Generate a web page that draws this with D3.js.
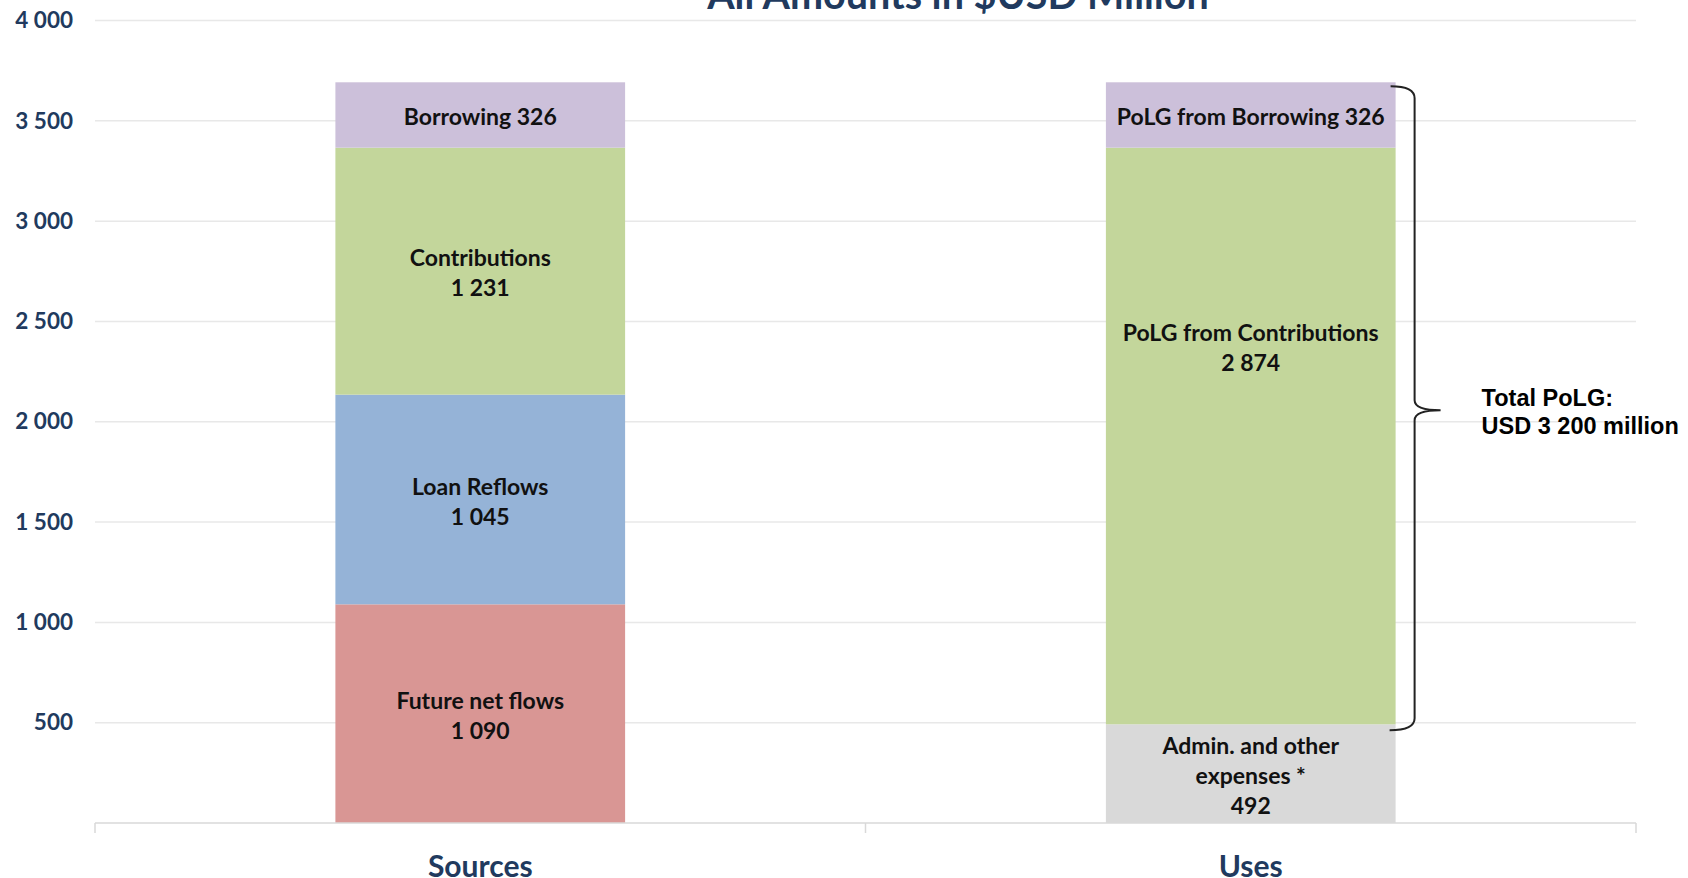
<!DOCTYPE html>
<html>
<head>
<meta charset="utf-8">
<script src="https://cdn.jsdelivr.net/npm/d3@7"></script>
<style>
  body { margin: 0; background: #fff; }
  svg { display: block; }
</style>
</head>
<body>
<div id="container"></div>
<script>
/* CONSTANTS AND GLOBALS */
const width = 1688,
  height = 878,
  margin = { top: 20.5, bottom: 55, left: 95, right: 52 };

const title = "All Amounts in $USD Million";
const categories = ["Sources", "Uses"];

// segments stacked bottom-up
const sourceNames = ["Future net flows", "Loan Reflows", "Contributions", "Borrowing"];
const sourceValues = [1090, 1045, 1231, 326];
const useNames = ["Admin. and other expenses *", "PoLG from Contributions", "PoLG from Borrowing"];
const useValues = [492, 2874, 326];

const yTicks = [500, 1000, 1500, 2000, 2500, 3000, 3500, 4000];
const braceNote = ["Total PoLG:", "USD 3 200 million"];

const colors = {
  "Future net flows": "#D99694",
  "Loan Reflows": "#95B3D7",
  "Contributions": "#C3D69B",
  "Borrowing": "#CCC0DA",
  "Admin. and other expenses *": "#D9D9D9",
  "PoLG from Contributions": "#C3D69B",
  "PoLG from Borrowing": "#CCC0DA"
};

// how each label is broken into lines
const labelLines = {
  "Future net flows": d => ["Future net flows", fmt(d.value)],
  "Loan Reflows": d => ["Loan Reflows", fmt(d.value)],
  "Contributions": d => ["Contributions", fmt(d.value)],
  "Borrowing": d => ["Borrowing " + fmt(d.value)],
  "Admin. and other expenses *": d => ["Admin. and other", "expenses *", fmt(d.value)],
  "PoLG from Contributions": d => ["PoLG from Contributions", fmt(d.value)],
  "PoLG from Borrowing": d => ["PoLG from Borrowing " + fmt(d.value)]
};
const labelShift = { "PoLG from Contributions": -90 };

const locale = d3.formatLocale({ decimal: ".", thousands: " ", grouping: [3], currency: ["", ""] });
const fmt = locale.format(",");

const navy = "#213A5E";
const font = "Lato, 'Open Sans', sans-serif";

/* build stacked rows */
function stack(cat, names, values) {
  let y0 = 0;
  return names.map((n, i) => {
    const row = { cat, name: n, value: values[i], y0, y1: y0 + values[i] };
    y0 += values[i];
    return row;
  });
}
const data = stack("Sources", sourceNames, sourceValues).concat(stack("Uses", useNames, useValues));

/* SCALES */
const xScale = d3.scaleBand()
  .domain(categories)
  .range([margin.left, width - margin.right])
  .paddingInner(0.624)
  .paddingOuter(0.312);

const yScale = d3.scaleLinear()
  .domain([0, 4000])
  .range([height - margin.bottom, margin.top]);

/* HTML ELEMENTS */
const svg = d3.select("#container")
  .append("svg")
  .attr("width", width)
  .attr("height", height);

// gridlines
svg.append("g")
  .selectAll("line")
  .data(yTicks)
  .join("line")
  .attr("x1", margin.left)
  .attr("x2", width - margin.right)
  .attr("y1", d => yScale(d))
  .attr("y2", d => yScale(d))
  .attr("stroke", "#E8E8E8")
  .attr("stroke-width", 1.5);

// y axis labels
const yAxis = d3.axisLeft(yScale)
  .tickValues(yTicks)
  .tickSize(0)
  .tickPadding(22)
  .tickFormat(fmt);

svg.append("g")
  .attr("transform", `translate(${margin.left},0)`)
  .call(yAxis)
  .call(g => g.select(".domain").remove())
  .selectAll("text")
  .attr("fill", navy)
  .style("font-family", font)
  .style("font-weight", "bold")
  .style("font-size", "22.5px");

// title (cut off at top)
svg.append("text")
  .attr("x", 958)
  .attr("y", 9)
  .attr("text-anchor", "middle")
  .attr("fill", navy)
  .style("font-family", font)
  .style("font-weight", "bold")
  .style("font-size", "39.5px")
  .text(title);

// bars
svg.append("g")
  .selectAll("rect")
  .data(data)
  .join("rect")
  .attr("x", d => xScale(d.cat))
  .attr("width", xScale.bandwidth())
  .attr("y", d => yScale(d.y1))
  .attr("height", d => yScale(d.y0) - yScale(d.y1))
  .attr("fill", d => colors[d.name]);

// segment labels
const lineH = 30;
svg.append("g")
  .selectAll("text")
  .data(data)
  .join("text")
  .attr("text-anchor", "middle")
  .attr("fill", "#111")
  .style("font-family", font)
  .style("font-weight", "bold")
  .style("font-size", "23px")
  .each(function (d) {
    const lines = labelLines[d.name](d);
    const cx = xScale(d.cat) + xScale.bandwidth() / 2;
    const cy = (yScale(d.y0) + yScale(d.y1)) / 2 + 2 + (labelShift[d.name] || 0);
    const top = cy - (lines.length - 1) * lineH / 2;
    d3.select(this).selectAll("tspan")
      .data(lines)
      .join("tspan")
      .attr("x", cx)
      .attr("y", (l, i) => top + i * lineH)
      .attr("dy", "0.35em")
      .text(l => l);
  });

// x axis
const xAxisG = svg.append("g")
  .attr("transform", `translate(0,${yScale(0)})`);
xAxisG.append("line")
  .attr("x1", margin.left)
  .attr("x2", width - margin.right)
  .attr("stroke", "#D9D9D9")
  .attr("stroke-width", 1.5);
const bounds = [margin.left, (xScale("Sources") + xScale("Uses") + xScale.bandwidth()) / 2, width - margin.right];
xAxisG.selectAll(".tk")
  .data(bounds)
  .join("line")
  .attr("class", "tk")
  .attr("x1", d => d)
  .attr("x2", d => d)
  .attr("y1", 0)
  .attr("y2", 10)
  .attr("stroke", "#D9D9D9")
  .attr("stroke-width", 1.5);
xAxisG.selectAll(".cat")
  .data(categories)
  .join("text")
  .attr("class", "cat")
  .attr("x", d => xScale(d) + xScale.bandwidth() / 2)
  .attr("y", 54)
  .attr("text-anchor", "middle")
  .attr("fill", navy)
  .style("font-family", font)
  .style("font-weight", "bold")
  .style("font-size", "30px")
  .text(d => d);

// brace over PoLG segments
const barRight = xScale("Uses") + xScale.bandwidth();
const bx = barRight + 19;
const by0 = yScale(d3.sum(useValues)) + 4;
const by1 = yScale(useValues[0]) + 6;
const bm = (by0 + by1) / 2 + 2;
svg.append("path")
  .attr("d", `M${barRight - 5},${by0} Q${bx},${by0} ${bx},${by0 + 12}
    L${bx},${bm - 10} Q${bx},${bm} ${bx + 26},${bm}
    Q${bx},${bm} ${bx},${bm + 10}
    L${bx},${by1 - 12} Q${bx},${by1} ${barRight - 6},${by1}`)
  .attr("fill", "none")
  .attr("stroke", "#222")
  .attr("stroke-width", 2);

svg.append("g")
  .selectAll("text")
  .data(braceNote)
  .join("text")
  .attr("x", bx + 67)
  .attr("y", (d, i) => bm - 4 + i * 28)
  .attr("fill", "#000")
  .style("font-family", "'Liberation Sans', Arial, sans-serif")
  .style("font-weight", "bold")
  .style("font-size", "23.5px")
  .text(d => d);
</script>
</body>
</html>
